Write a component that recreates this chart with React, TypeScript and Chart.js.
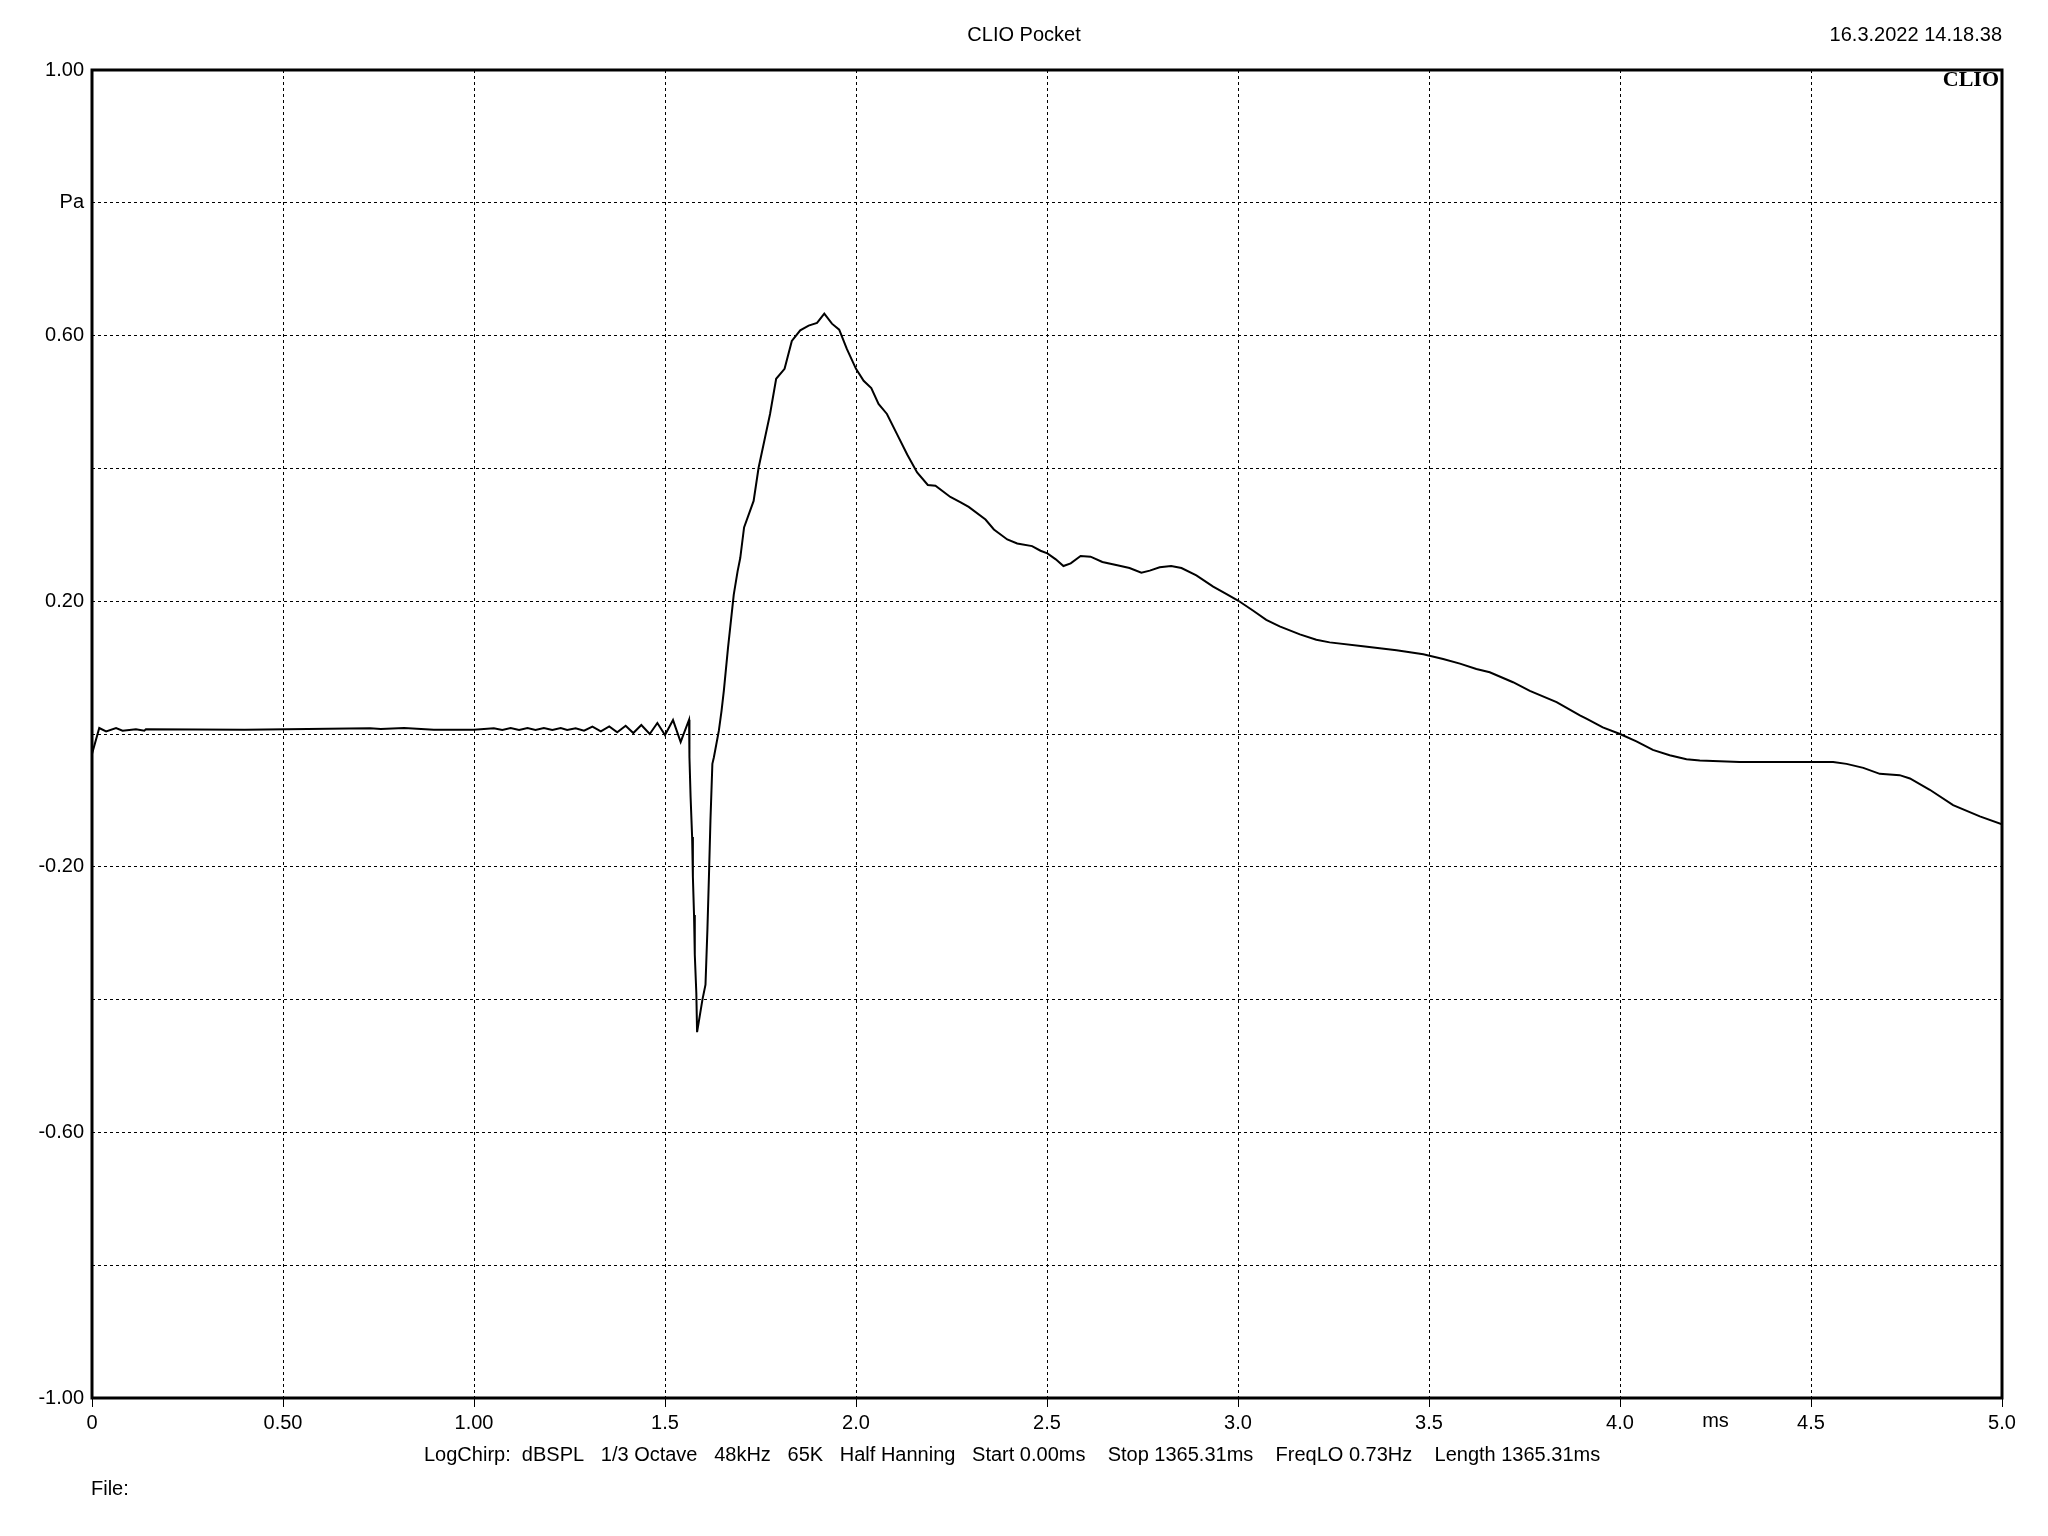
import React, { useEffect, useRef } from "react";
import { Chart, registerables } from "chart.js";

Chart.register(...registerables);

// ---- Data (time in ms, sound pressure in Pa) ----
const timeMs = [
  0.0, 0.019, 0.037, 0.063, 0.08, 0.115, 0.137, 0.141, 0.4, 0.728, 0.756, 0.817, 0.895, 1.0,
  1.052, 1.074, 1.096, 1.118, 1.14, 1.161, 1.183, 1.205, 1.227, 1.244, 1.266, 1.288, 1.31,
  1.332, 1.354, 1.375, 1.397, 1.417, 1.438, 1.46, 1.48, 1.5, 1.521, 1.541, 1.563, 1.564,
  1.567, 1.571, 1.573, 1.576, 1.578, 1.582, 1.584, 1.598, 1.606, 1.611, 1.615, 1.619, 1.624,
  1.628, 1.641, 1.648, 1.654, 1.665, 1.68, 1.69, 1.697, 1.707, 1.732, 1.745, 1.762, 1.775,
  1.791, 1.813, 1.832, 1.854, 1.876, 1.898, 1.917, 1.937, 1.956, 1.976, 2.0, 2.02, 2.04,
  2.059, 2.081, 2.107, 2.134, 2.16, 2.188, 2.208, 2.247, 2.274, 2.295, 2.339, 2.361, 2.396,
  2.422, 2.461, 2.483, 2.501, 2.523, 2.543, 2.562, 2.588, 2.614, 2.645, 2.684, 2.716, 2.747,
  2.769, 2.795, 2.825, 2.852, 2.891, 2.935, 2.969, 3.0, 3.039, 3.074, 3.109, 3.162, 3.205,
  3.24, 3.327, 3.415, 3.485, 3.537, 3.581, 3.624, 3.659, 3.72, 3.764, 3.834, 3.895, 3.912,
  3.955, 4.0, 4.043, 4.086, 4.13, 4.174, 4.209, 4.313, 4.558, 4.593, 4.637, 4.68, 4.732,
  4.759, 4.811, 4.872, 4.942, 5.0,
];
const pressurePa = [
  -0.03, 0.009, 0.004, 0.009, 0.005, 0.007, 0.005, 0.007, 0.0065, 0.0085, 0.0075, 0.009, 0.0065, 0.0065,
  0.0085, 0.006, 0.009, 0.006, 0.009, 0.006, 0.009, 0.006, 0.009, 0.006, 0.0085, 0.005, 0.011,
  0.004, 0.0115, 0.0025, 0.0125, 0.0015, 0.0135, 0.0, 0.0165, -0.0015, 0.021, -0.012, 0.0215, -0.035,
  -0.095, -0.155, -0.215, -0.2725, -0.3325, -0.39, -0.449, -0.4, -0.3775, -0.295, -0.215, -0.13, -0.045,
  -0.035, 0.005, 0.035, 0.065, 0.13, 0.21, 0.245, 0.265, 0.311, 0.351, 0.401, 0.447, 0.482,
  0.535, 0.55, 0.592, 0.608, 0.615, 0.619, 0.633, 0.618, 0.609, 0.58, 0.55, 0.532, 0.521,
  0.497, 0.482, 0.452, 0.421, 0.394, 0.375, 0.374, 0.357, 0.349, 0.342, 0.323, 0.308, 0.293,
  0.287, 0.283, 0.276, 0.272, 0.263, 0.253, 0.257, 0.268, 0.267, 0.259, 0.254, 0.25, 0.243,
  0.246, 0.251, 0.253, 0.25, 0.239, 0.222, 0.211, 0.201, 0.186, 0.172, 0.162, 0.15, 0.142,
  0.138, 0.132, 0.126, 0.12, 0.113, 0.106, 0.098, 0.093, 0.078, 0.065, 0.048, 0.028, 0.023,
  0.01, 0.0, -0.011, -0.024, -0.032, -0.038, -0.04, -0.042, -0.042, -0.045, -0.051, -0.06, -0.062,
  -0.067, -0.084, -0.107, -0.124, -0.136,
];

const xTickValues = [0, 0.5, 1, 1.5, 2, 2.5, 3, 3.5, 4, 4.5, 5];
const xTickLabels = ["0", "0.50", "1.00", "1.5", "2.0", "2.5", "3.0", "3.5", "4.0", "4.5", "5.0"];
const yTickValues = [-1, -0.8, -0.6, -0.4, -0.2, 0, 0.2, 0.4, 0.6, 0.8, 1];
const yTickLabels = ["-1.00", "", "-0.60", "", "-0.20", "", "0.20", "", "0.60", "Pa", "1.00"];

const titleText = "CLIO Pocket";
const dateText = "16.3.2022 14.18.38";
const logoText = "CLIO";
const xUnitText = "ms";
const xUnitPos = 4.25;
const infoText =
  "LogChirp:  dBSPL   1/3 Octave   48kHz   65K   Half Hanning   Start 0.00ms    Stop 1365.31ms    FreqLO 0.73Hz    Length 1365.31ms";
const fileText = "File:";

const FONT = "'Liberation Sans', Arial, sans-serif";

const decorPlugin = {
  id: "decor",
  afterDraw(chart: any) {
    const { ctx, chartArea: a, scales } = chart;
    ctx.save();
    // plot frame
    ctx.strokeStyle = "#000";
    ctx.lineWidth = 3;
    ctx.setLineDash([]);
    ctx.strokeRect(a.left, a.top, a.right - a.left, a.bottom - a.top);
    ctx.fillStyle = "#000";
    ctx.font = `20px ${FONT}`;
    ctx.textBaseline = "middle";
    // title (centred on the page)
    ctx.textAlign = "center";
    ctx.fillText(titleText, chart.width / 2, 35);
    // date
    ctx.textAlign = "right";
    ctx.fillText(dateText, a.right, 35);
    // x unit
    ctx.textAlign = "center";
    ctx.fillText(xUnitText, scales.x.getPixelForValue(xUnitPos), a.bottom + 23);
    // info line
    ctx.textAlign = "left";
    ctx.fillText(infoText, 424, a.bottom + 57);
    ctx.fillText(fileText, a.left - 1, a.bottom + 91);
    // logo
    ctx.font = `bold 22px 'Liberation Serif', 'Times New Roman', serif`;
    ctx.textAlign = "right";
    ctx.fillText(logoText, a.right - 3, a.top + 10);
    ctx.restore();
  },
};

function labelFor(values: number[], labels: string[], v: number) {
  let best = 0;
  for (let i = 1; i < values.length; i++) {
    if (Math.abs(values[i] - v) < Math.abs(values[best] - v)) best = i;
  }
  return Math.abs(values[best] - v) < 1e-6 ? labels[best] : "";
}

export default function App() {
  const ref = useRef<HTMLCanvasElement | null>(null);
  useEffect(() => {
    if (!ref.current) return;
    const points = timeMs.map((t, i) => ({ x: t, y: pressurePa[i] }));
    const chart = new Chart(ref.current, {
      type: "line",
      data: {
        datasets: [
          {
            data: points,
            borderColor: "#000",
            borderWidth: 2,
            pointRadius: 0,
            tension: 0,
            fill: false,
          },
        ],
      },
      options: {
        responsive: false,
        animation: false,
        devicePixelRatio: 1,
        layout: { padding: { top: 70, right: 46, bottom: 0, left: 0 } },
        plugins: { legend: { display: false }, tooltip: { enabled: false }, title: { display: false } },
        scales: {
          x: {
            type: "linear",
            min: 0,
            max: 5,
            afterBuildTicks: (scale: any) => {
              scale.ticks = xTickValues.map((v) => ({ value: v }));
            },
            afterFit: (scale: any) => {
              scale.height = 138;
            },
            ticks: {
              autoSkip: false,
              maxRotation: 0,
              padding: 4,
              color: "#000",
              font: { family: FONT, size: 20 },
              callback: (v: any) => labelFor(xTickValues, xTickLabels, Number(v)),
            },
            grid: {
              color: "#000",
              lineWidth: 1,
              drawTicks: true,
              tickLength: 9,
              tickColor: "#000",
              tickWidth: 1,
              tickBorderDash: [],
              borderDash: [3, 3],
            } as any,
            border: { display: false, dash: [3, 3] } as any,
          },
          y: {
            type: "linear",
            min: -1,
            max: 1,
            afterBuildTicks: (scale: any) => {
              scale.ticks = yTickValues.map((v) => ({ value: v }));
            },
            afterFit: (scale: any) => {
              scale.width = 92;
            },
            ticks: {
              autoSkip: false,
              padding: 8,
              color: "#000",
              font: { family: FONT, size: 20 },
              callback: (v: any) => labelFor(yTickValues, yTickLabels, Number(v)),
            },
            grid: {
              color: "#000",
              lineWidth: 1,
              drawTicks: false,
              borderDash: [3, 3],
            } as any,
            border: { display: false, dash: [3, 3] } as any,
          },
        },
      },
      plugins: [decorPlugin],
    } as any);
    return () => chart.destroy();
  }, []);
  return (
    <div style={{ position: "fixed", left: 0, top: 0, width: 2048, height: 1536, background: "#fff" }}>
      <canvas ref={ref} width={2048} height={1536} style={{ display: "block", width: 2048, height: 1536 }} />
    </div>
  );
}
